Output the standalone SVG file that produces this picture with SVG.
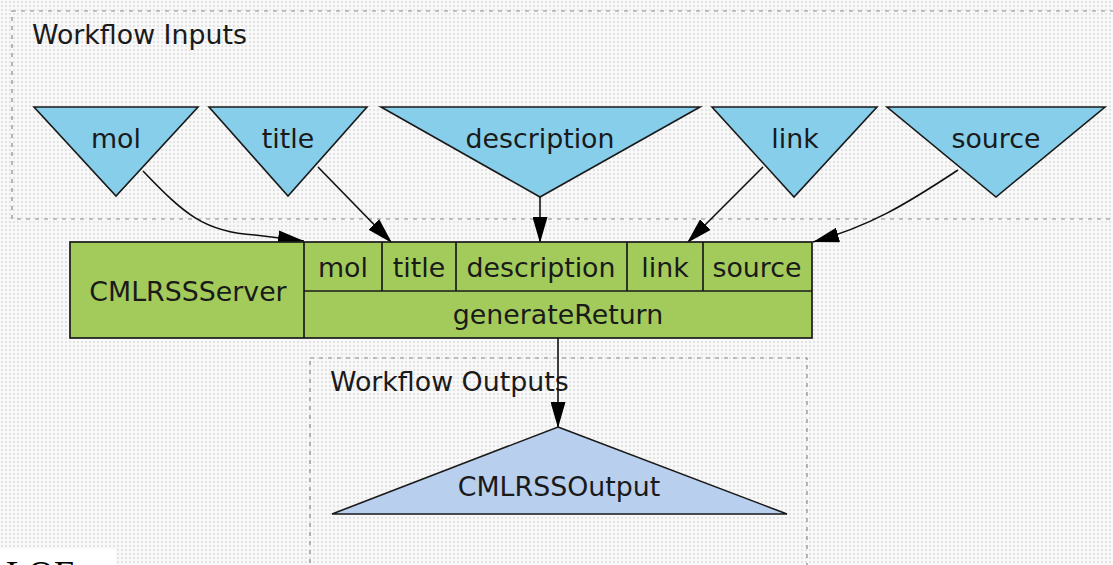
<svg xmlns="http://www.w3.org/2000/svg" width="1113" height="565" viewBox="0 0 1113 565">
<style>
.lbl{font-family:"DejaVu Sans","Verdana",sans-serif;font-size:26.8px;fill:#1a1a1a;text-anchor:middle}
.cl{font-family:"DejaVu Sans","Verdana",sans-serif;font-size:26.8px;fill:#1a1a1a}
.in{fill:#87ceeb;stroke:#1a1a1a;stroke-width:1.6;stroke-linejoin:miter}
.out{fill:#b9cfee;stroke:#1a1a1a;stroke-width:1.6}
.proc{fill:#a3cb5b;stroke:#1a1a1a;stroke-width:1.7}
.cluster{fill:none;stroke:#8a8a8a;stroke-width:1.2;stroke-dasharray:4 5}
.edge{fill:none;stroke:#111;stroke-width:1.6}
</style>
<defs>
<pattern id="dots" width="4" height="4" patternUnits="userSpaceOnUse">
<rect width="4" height="4" fill="#f8f8f8"/>
<circle cx="2" cy="2" r="0.9" fill="#d9d9d9"/>
</pattern>
<marker id="arr" viewBox="0 0 26 15" refX="26" refY="7.5" markerWidth="26" markerHeight="15" markerUnits="userSpaceOnUse" orient="auto">
<path d="M0,0 L26,7.5 L0,15 z" fill="#000"/>
</marker>
</defs>
<rect width="1113" height="565" fill="url(#dots)"/>

<g id="cluster-inputs">
<rect class="cluster" x="12" y="11" width="1120" height="208"/>
<text class="cl" x="32" y="44">Workflow Inputs</text>
</g>
<g id="cluster-outputs">
<rect class="cluster" x="310" y="358" width="497" height="240"/>
<text class="cl" x="330" y="391">Workflow Outputs</text>
</g>

<g id="connectors">
<path class="edge" d="M143,171 C185,215 205,232 255,235 L304,241" marker-end="url(#arr)"/>
<path class="edge" d="M318,167 L392,243" marker-end="url(#arr)"/>
<path class="edge" d="M540,197 L540,243" marker-end="url(#arr)"/>
<path class="edge" d="M763,167 L687,243" marker-end="url(#arr)"/>
<path class="edge" d="M958,170 C905,205 870,226 813,242" marker-end="url(#arr)"/>
<path class="edge" d="M558,338 L558,428" marker-end="url(#arr)"/>
</g>

<g id="input-mol">
<polygon class="in" points="34,107 198,107 116,196"/>
<text class="lbl" x="116" y="148">mol</text>
</g>
<g id="input-title">
<polygon class="in" points="209,107 367,107 288,196"/>
<text class="lbl" x="288" y="148">title</text>
</g>
<g id="input-description">
<polygon class="in" points="381,107 700,107 540,197"/>
<text class="lbl" x="540" y="148">description</text>
</g>
<g id="input-link">
<polygon class="in" points="712,107 877,107 794,197"/>
<text class="lbl" x="795" y="148">link</text>
</g>
<g id="input-source">
<polygon class="in" points="887,107 1105,107 996,197"/>
<text class="lbl" x="996" y="148">source</text>
</g>

<g id="processor-CMLRSSServer">
<rect class="proc" x="70" y="242" width="742" height="96"/>
<line class="proc" x1="304" y1="242" x2="304" y2="338"/>
<line class="proc" x1="304" y1="291" x2="812" y2="291"/>
<line class="proc" x1="382" y1="242" x2="382" y2="291"/>
<line class="proc" x1="456" y1="242" x2="456" y2="291"/>
<line class="proc" x1="627" y1="242" x2="627" y2="291"/>
<line class="proc" x1="703" y1="242" x2="703" y2="291"/>
<text class="lbl" x="188" y="301">CMLRSSServer</text>
<text class="lbl" x="343" y="277">mol</text>
<text class="lbl" x="419" y="277">title</text>
<text class="lbl" x="541" y="277">description</text>
<text class="lbl" x="665" y="277">link</text>
<text class="lbl" x="757" y="277">source</text>
<text class="lbl" x="558" y="324">generateReturn</text>
</g>

<g id="output-CMLRSSOutput">
<polygon class="out" points="558,427 787,514 332,514"/>
<text class="lbl" x="559" y="496">CMLRSSOutput</text>
</g>

<g id="footer-fragment">
<rect x="0" y="549" width="116" height="16" fill="#ffffff"/>
<text x="6" y="586" font-family="Liberation Serif, serif" font-size="36" fill="#000">LOF</text>
</g>
</svg>
